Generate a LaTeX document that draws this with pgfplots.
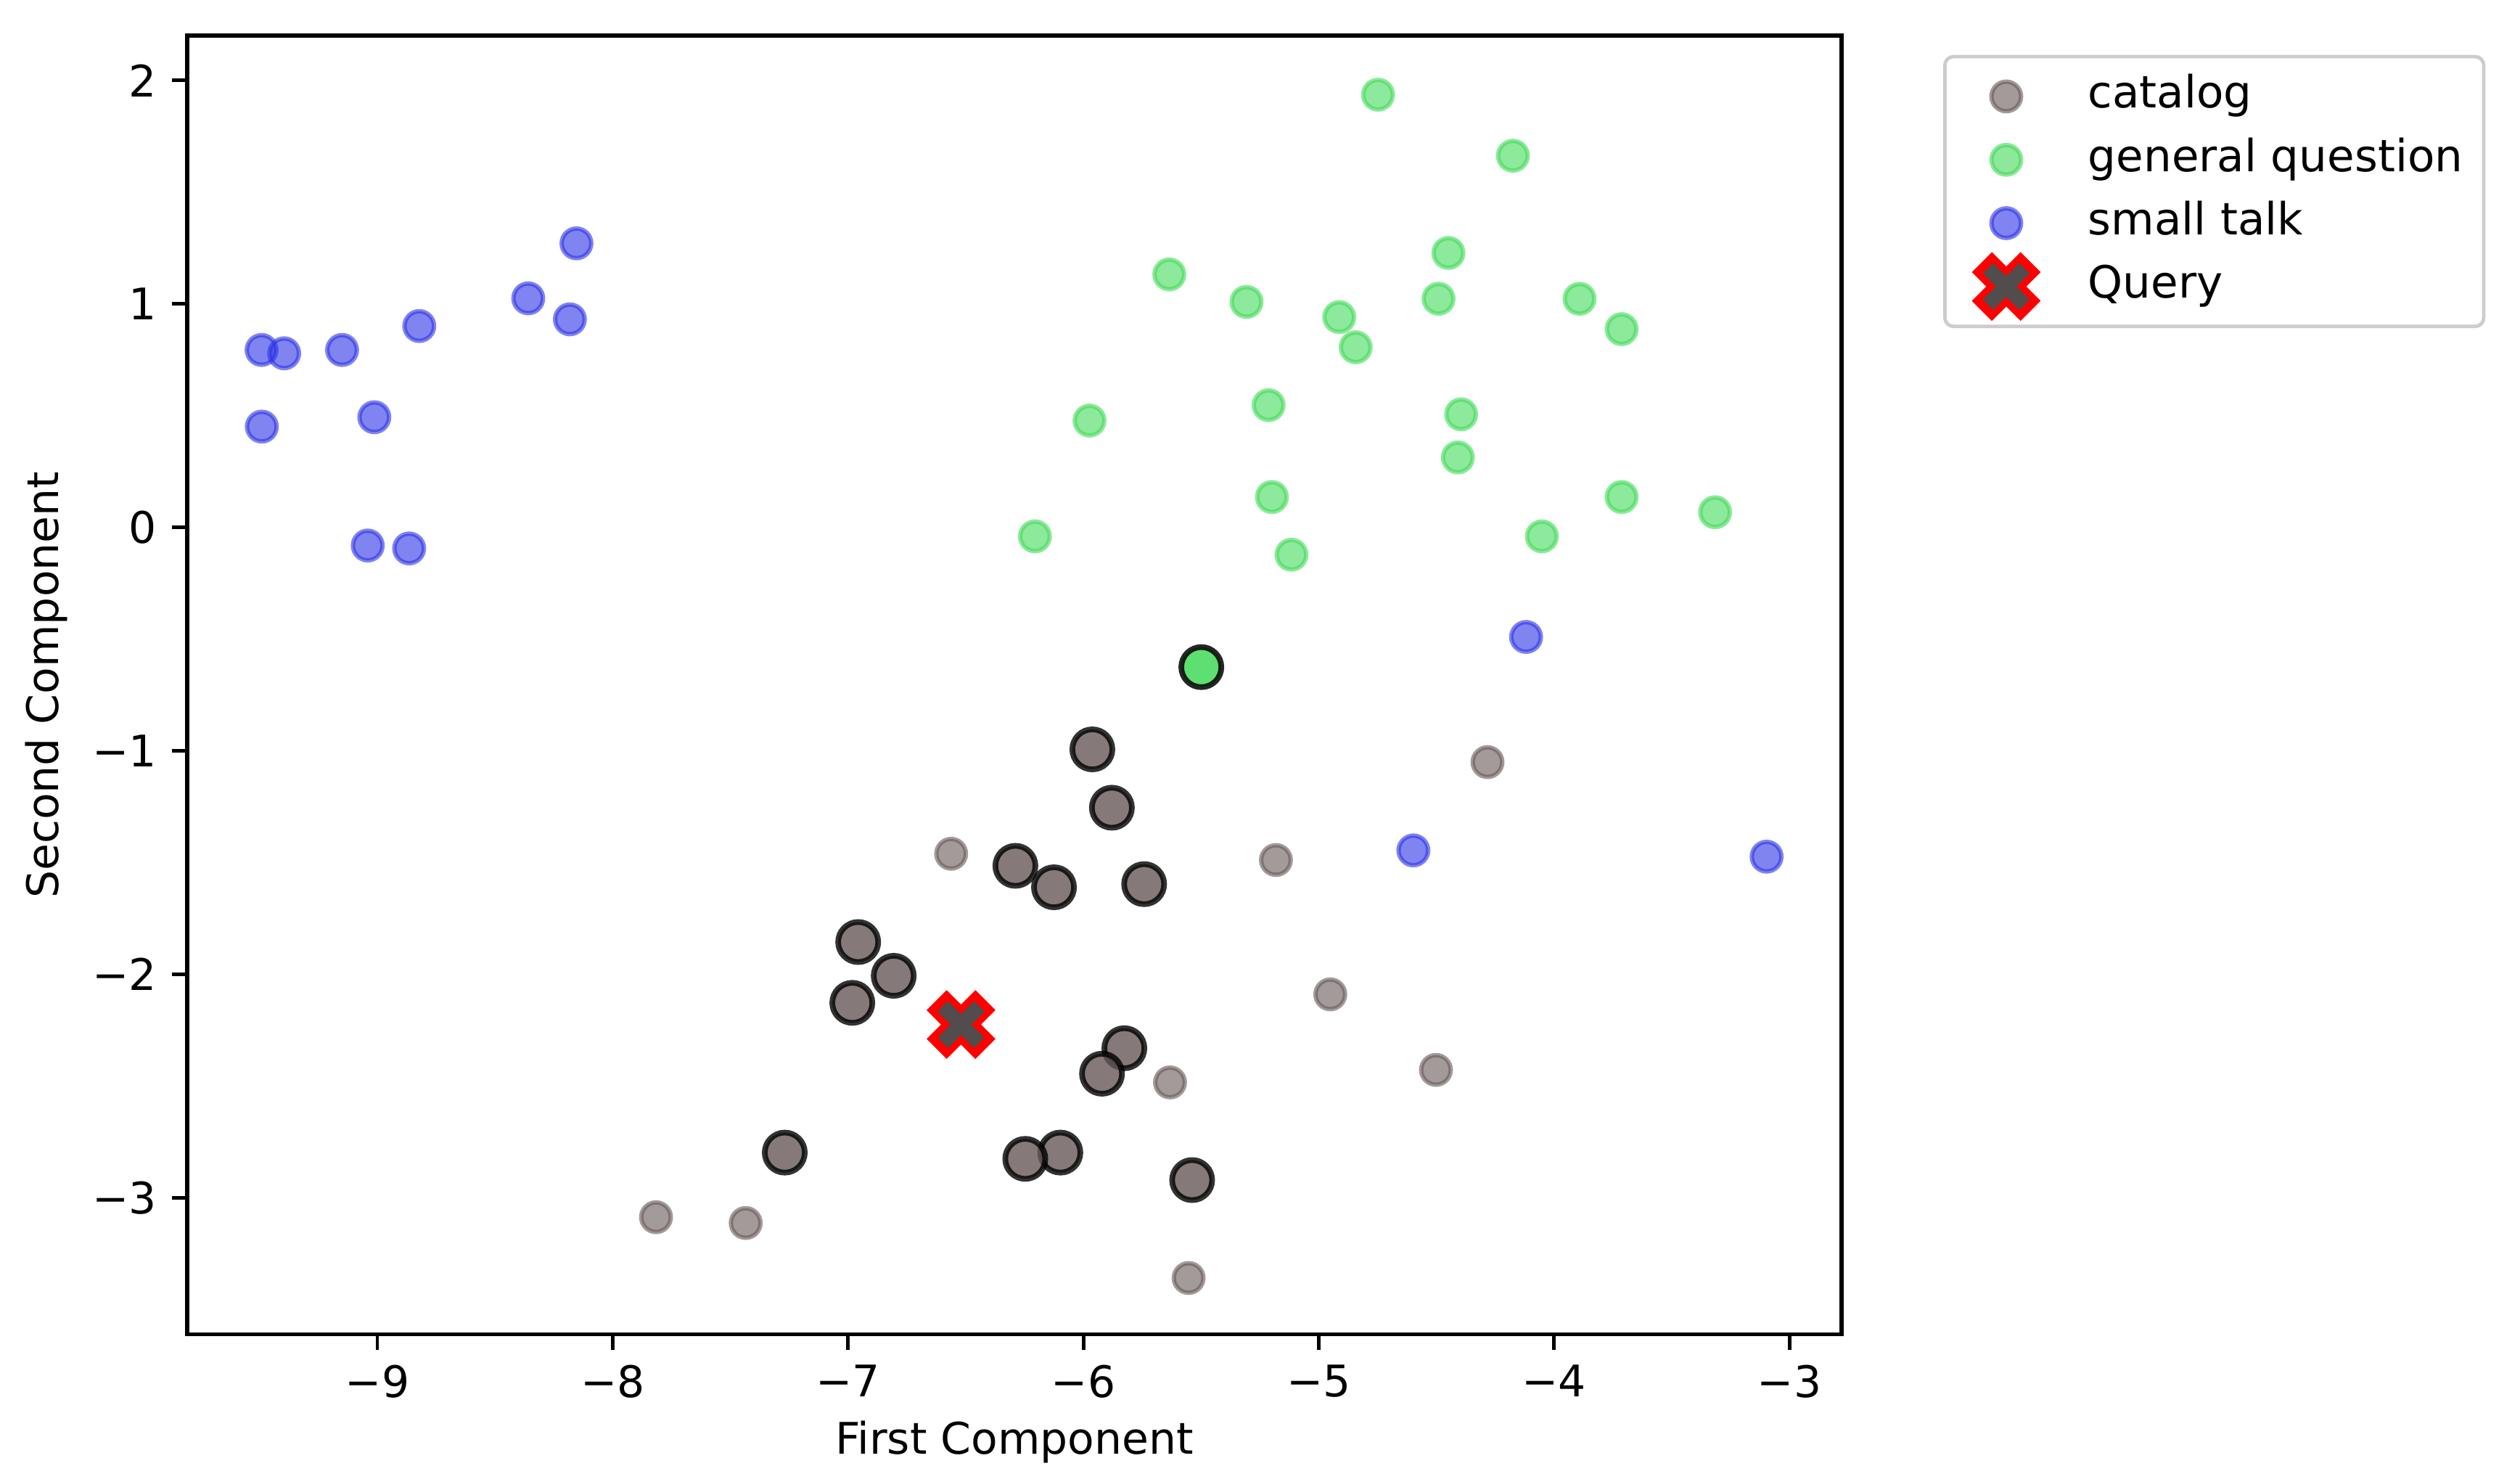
\documentclass[border=0pt]{standalone}
\usepackage{fontspec}
\setmainfont{DejaVu Sans}
\usepackage{pgfplots}
\pgfplotsset{compat=1.18}
\definecolor{catbase}{RGB}{102,87,87}
\definecolor{grnbase}{RGB}{65,218,88}
\definecolor{blubase}{RGB}{44,50,230}
\definecolor{qgray}{RGB}{82,76,76}
\definecolor{legframe}{RGB}{204,204,204}
\pgfdeclareplotmark{bigX}{%
  \begin{pgfinterruptboundingbox}%
  \pgfsetbuttcap
  \pgfsetmiterjoin
  \pgfsetlinewidth{6.5pt}%
  \pgfsetstrokecolor{red}%
  \pgfpathmoveto{\pgfqpoint{-5.6pt}{-5.6pt}}\pgfpathlineto{\pgfqpoint{5.6pt}{5.6pt}}%
  \pgfpathmoveto{\pgfqpoint{-5.6pt}{5.6pt}}\pgfpathlineto{\pgfqpoint{5.6pt}{-5.6pt}}%
  \pgfusepathqstroke
  \pgfsetlinewidth{3.4pt}%
  \pgfsetstrokecolor{qgray}%
  \pgfpathmoveto{\pgfqpoint{-4.2pt}{-4.2pt}}\pgfpathlineto{\pgfqpoint{4.2pt}{4.2pt}}%
  \pgfpathmoveto{\pgfqpoint{-4.2pt}{4.2pt}}\pgfpathlineto{\pgfqpoint{4.2pt}{-4.2pt}}%
  \pgfusepathqstroke
  \end{pgfinterruptboundingbox}%
  \pgfpathrectangle{\pgfqpoint{-3.9pt}{-3.9pt}}{\pgfqpoint{7.8pt}{7.8pt}}%
  \pgfusepath{}%
}
\begin{document}
\begin{tikzpicture}
\useasboundingbox (-43pt,-33.8pt) rectangle (535.8pt,306.4pt);
\begin{axis}[
  scale only axis,
  width=380pt, height=298.2pt,
  xmin=-9.808, xmax=-2.778,
  ymin=-3.61, ymax=2.20,
  xtick={-9,-8,-7,-6,-5,-4,-3},
  xticklabels={−9,−8,−7,−6,−5,−4,−3},
  ytick={-3,-2,-1,0,1,2},
  yticklabels={−3,−2,−1,0,1,2},
  tick align=outside,
  major tick length=3.5pt,
  tick style={black, line width=0.8pt},
  axis line style={line width=0.9pt},
  xtick pos=bottom, ytick pos=left,
  ticklabel style={font=\fontsize{10}{12}\selectfont},
  xlabel={First Component},
  ylabel={Second Component},
  every axis x label/.style={at={(axis description cs:0.5,-0.083)}, anchor=center, font=\fontsize{10}{12}\selectfont},
  every axis y label/.style={at={(axis description cs:-0.085,0.5)}, rotate=90, anchor=center, font=\fontsize{10}{12}\selectfont},
  legend image code/.code={%
    \path (0pt,0pt) -- (0pt,0pt);
    \draw[mark repeat=2,mark phase=2,#1] plot coordinates {(0pt,0pt)(8.9pt,0pt)(17.8pt,0pt)};},
  legend cell align=left,
  legend style={at={(1,1)}, anchor=north west, xshift=23.3pt, yshift=-4.4pt,
    draw=legframe, line width=0.8pt, rounded corners=2pt,
    inner xsep=4.8pt, inner ysep=4.5pt, column sep=14.9pt, row sep=5.25pt,
    font=\fontsize{10.2}{12}\selectfont,
    nodes={inner sep=0pt, text height=7.3pt, text depth=2pt}},
]
% catalog (other points)
\addplot[only marks, mark=*, mark size=3.4pt,
  mark options={fill=catbase, draw=catbase, line width=1pt, opacity=0.6}]
  coordinates {
  (-4.283,-1.050) (-5.182,-1.488) (-4.951,-2.089) (-4.502,-2.427)
  (-6.562,-1.460) (-5.632,-2.483) (-7.816,-3.086) (-7.435,-3.112) (-5.553,-3.358)
  };
\addlegendentry{catalog}
% general question
\addplot[only marks, mark=*, mark size=3.4pt,
  mark options={fill=grnbase, draw=grnbase, line width=1pt, opacity=0.6}]
  coordinates {
  (-4.748,1.936) (-4.175,1.663) (-4.449,1.228) (-5.635,1.132) (-5.307,1.009)
  (-4.913,0.941) (-4.491,1.023) (-3.892,1.023) (-3.713,0.887) (-4.843,0.806)
  (-5.974,0.478) (-5.213,0.547) (-4.395,0.506) (-4.409,0.313) (-5.199,0.136)
  (-3.713,0.136) (-3.316,0.068) (-6.206,-0.040) (-4.052,-0.040) (-5.116,-0.122)
  };
\addlegendentry{general question}
% small talk
\addplot[only marks, mark=*, mark size=3.4pt,
  mark options={fill=blubase, draw=blubase, line width=1pt, opacity=0.6}]
  coordinates {
  (-9.492,0.794) (-9.396,0.779) (-9.150,0.794) (-8.822,0.901) (-8.359,1.025)
  (-8.182,0.931) (-8.154,1.271) (-9.013,0.493) (-9.491,0.451) (-9.041,-0.081)
  (-8.865,-0.094) (-4.119,-0.490) (-4.598,-1.445) (-3.097,-1.473)
  };
\addlegendentry{small talk}
% nearest neighbours (catalog)
\addplot[only marks, mark=*, mark size=4.6pt, forget plot,
  mark options={fill=catbase, fill opacity=0.8, draw=black, draw opacity=0.8, line width=1.3pt}]
  coordinates {
  (-5.962,-0.993) (-5.879,-1.254) (-6.289,-1.514) (-6.125,-1.610) (-5.742,-1.596)
  (-6.957,-1.855) (-6.806,-2.006) (-6.982,-2.127) (-5.826,-2.330) (-5.921,-2.444)
  (-7.269,-2.797) (-6.098,-2.797) (-6.247,-2.825) (-5.538,-2.920)
  };
% nearest neighbour (general question)
\addplot[only marks, mark=*, mark size=4.6pt, forget plot,
  mark options={fill=grnbase, fill opacity=0.85, draw=black, draw opacity=0.85, line width=1.3pt}]
  coordinates {(-5.499,-0.625)};
% query
\addplot[only marks, mark=bigX] coordinates {(-6.520,-2.224)};
\addlegendentry{Query}
\end{axis}
\end{tikzpicture}
\end{document}
